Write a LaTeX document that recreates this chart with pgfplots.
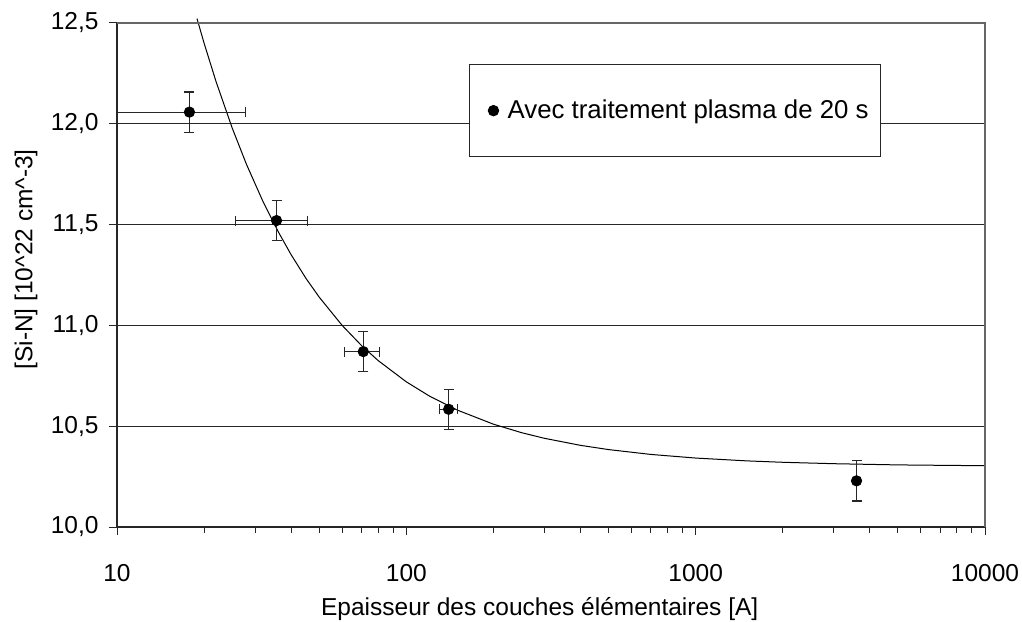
\documentclass[border=0pt]{standalone}
\usepackage{fontspec}
\setmainfont{Liberation Sans}
\usepackage{pgfplots}
\pgfplotsset{compat=1.18}
\begin{document}
\fontsize{12.25}{14.7}\selectfont
\begin{tikzpicture}
\begin{axis}[
  name=ax, at={(0,0)}, anchor=south west,
  scale only axis, width=434pt, height=252pt,
  xmode=log, xmin=10, xmax=10000,
  ymin=10, ymax=12.5,
  axis lines*=left,
  axis line style={black!85, line width=0.6pt},
  clip=false,
  xtick={10,100,1000,10000},
  xticklabels={10,100,1000,10000},
  ytick={10,10.5,11,11.5,12,12.5},
  yticklabels={{10,0},{10,5},{11,0},{11,5},{12,0},{12,5}},
  tick align=outside,
  major tick length=4pt, minor tick length=3pt,
  tick style={black!85, line width=0.5pt},
  ymajorgrids, grid style={black!85, line width=0.5pt},
  ticklabel style={font=\fontsize{12.25}{14.7}\selectfont},
  xticklabel style={anchor=base, yshift=-23pt},
  yticklabel style={xshift=-1pt},
  xlabel={Epaisseur des couches élémentaires [A]},
  ylabel={[Si-N] [10\textasciicircum 22 cm\textasciicircum -3]},
  xlabel style={at={(axis description cs:0.487,-0.1746)}, anchor=base},
  ylabel style={at={(axis description cs:-0.1048,0.531)}, anchor=center},
  legend style={at={(axis description cs:0.4055,0.9187)}, anchor=north west,
    draw=black!85, line width=0.5pt, inner xsep=4pt, inner ysep=15.5pt,
    font=\fontsize{12.9}{15.5}\selectfont},
  legend image code/.code={\path[draw=none] (0pt,-1pt) rectangle (13.1pt,1pt);
    \fill[black] (8pt,0pt) circle[radius=2.6pt];},
]
\addplot[black, line width=0.5pt, forget plot] coordinates {
(18.9,12.522) (20,12.400) (22,12.209) (25,11.980) (28,11.800) (32,11.6125)
(36,11.467) (40,11.350) (45,11.233) (50,11.140) (60,11.000) (70,10.900)
(80,10.825) (100,10.720) (120,10.650) (150,10.580) (200,10.510) (250,10.468)
(300,10.440) (400,10.405) (500,10.384) (700,10.360) (1000,10.342) (1500,10.328)
(2000,10.321) (3000,10.314) (5000,10.308) (7000,10.306) (10000,10.304)
};
\addplot[only marks, mark=*, mark size=2.6pt, black,
  error bars/.cd, x dir=both, x explicit, y dir=both, y explicit,
  error bar style={black!85, line width=0.6pt},
  error mark options={rotate=90, mark size=2.5pt, black!85, line width=0.6pt}]
  coordinates {
  (17.8,12.058) -= (7.8,0.1) += (10,0.1)
  (35.6,11.52) +- (10,0.1)
  (71.0,10.87) +- (10,0.1)
  (140,10.584) +- (10,0.1)
  (3597,10.229) +- (0,0.1)
};
\addlegendentry{Avec traitement plasma de 20 s}
\draw[black!60, line width=0.6pt] (rel axis cs:0,1) -- (rel axis cs:1,1) -- (rel axis cs:1,0);
\end{axis}
\pgfresetboundingbox
\useasboundingbox (-58.5pt,-47pt) rectangle (452.5pt,263.5pt);
\end{tikzpicture}
\end{document}
